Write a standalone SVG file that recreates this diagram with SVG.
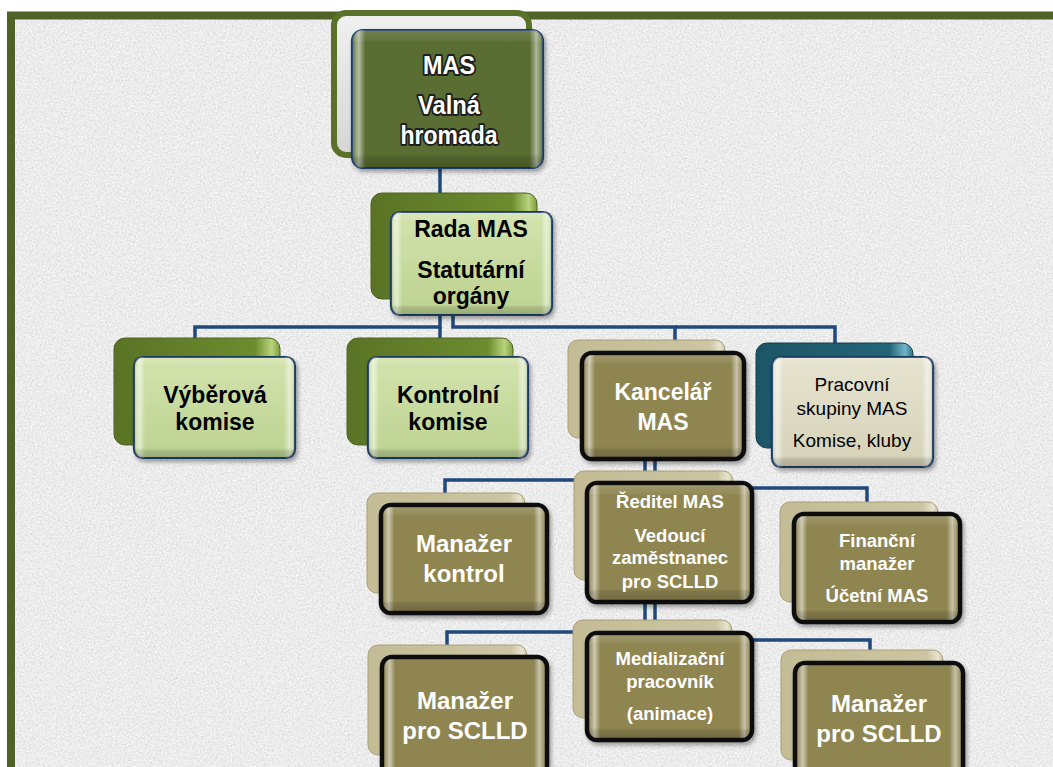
<svg xmlns="http://www.w3.org/2000/svg" width="1053" height="767" viewBox="0 0 1053 767">
  <defs>
    <filter id="noise" x="0" y="0" width="100%" height="100%">
      <feTurbulence type="fractalNoise" baseFrequency="0.5" numOctaves="3" seed="7"/>
      <feColorMatrix type="matrix" values="0 0 0 0 0.6  0 0 0 0 0.6  0 0 0 0 0.6  1.5 0 0 0 -0.62"/>
    </filter>
    <filter id="noiseLight" x="0" y="0" width="100%" height="100%">
      <feTurbulence type="fractalNoise" baseFrequency="0.55" numOctaves="2" seed="21"/>
      <feColorMatrix type="matrix" values="0 0 0 0 1  0 0 0 0 1  0 0 0 0 1  0 1.8 0 0 -0.75"/>
    </filter>
    <filter id="shadow" x="-10%" y="-10%" width="130%" height="130%">
      <feDropShadow dx="2" dy="3" stdDeviation="2" flood-color="#000" flood-opacity="0.35"/>
    </filter>
    <linearGradient id="bevH" x1="0" y1="0" x2="1" y2="0">
      <stop offset="0" stop-color="#fff" stop-opacity="0.05"/>
      <stop offset="0.035" stop-color="#fff" stop-opacity="0.55"/>
      <stop offset="0.07" stop-color="#fff" stop-opacity="0"/>
      <stop offset="0.93" stop-color="#fff" stop-opacity="0"/>
      <stop offset="0.965" stop-color="#fff" stop-opacity="0.5"/>
      <stop offset="1" stop-color="#fff" stop-opacity="0.05"/>
    </linearGradient>
    <linearGradient id="bevV" x1="0" y1="0" x2="0" y2="1">
      <stop offset="0" stop-color="#fff" stop-opacity="0.15"/>
      <stop offset="0.08" stop-color="#fff" stop-opacity="0.05"/>
      <stop offset="0.1" stop-color="#000" stop-opacity="0"/>
      <stop offset="0.9" stop-color="#000" stop-opacity="0"/>
      <stop offset="0.93" stop-color="#000" stop-opacity="0.12"/>
      <stop offset="1" stop-color="#000" stop-opacity="0.2"/>
    </linearGradient>
    <linearGradient id="greenBack" x1="0" y1="0" x2="1" y2="0">
      <stop offset="0" stop-color="#5a7326"/>
      <stop offset="0.85" stop-color="#6c8c2e"/>
      <stop offset="0.95" stop-color="#b8d47c"/>
      <stop offset="1" stop-color="#7d9b3b"/>
    </linearGradient>
    <linearGradient id="greenFront" x1="0" y1="0" x2="0" y2="1">
      <stop offset="0" stop-color="#d3e3ad"/>
      <stop offset="1" stop-color="#bcd291"/>
    </linearGradient>
    <linearGradient id="tealBack" x1="0" y1="0" x2="1" y2="0">
      <stop offset="0" stop-color="#1c5566"/>
      <stop offset="0.85" stop-color="#236577"/>
      <stop offset="0.95" stop-color="#6fb5c8"/>
      <stop offset="1" stop-color="#2d7488"/>
    </linearGradient>
    <linearGradient id="beigeFront" x1="0" y1="0" x2="0" y2="1">
      <stop offset="0" stop-color="#e6e3d0"/>
      <stop offset="1" stop-color="#d6d2b8"/>
    </linearGradient>
    <linearGradient id="khakiBack" x1="0" y1="0" x2="1" y2="0">
      <stop offset="0" stop-color="#c3bc95"/>
      <stop offset="0.9" stop-color="#cbc5a2"/>
      <stop offset="0.97" stop-color="#e8e4cf"/>
      <stop offset="1" stop-color="#c8c19c"/>
    </linearGradient>
    <linearGradient id="greyBack" x1="0" y1="0" x2="0" y2="1">
      <stop offset="0" stop-color="#f0f0f0"/>
      <stop offset="1" stop-color="#d6d6d6"/>
    </linearGradient>
    <style>
      .conn { fill: none; stroke: #1f497d; stroke-width: 3.5; stroke-linejoin: miter; }
      .back-green { fill: url(#greenBack); stroke: #4d6420; stroke-width: 1; }
      .front-green { fill: url(#greenFront); stroke: #1f3b63; stroke-width: 2.2; }
      .back-khaki { fill: url(#khakiBack); stroke: #a8a07a; stroke-width: 1; }
      .front-khaki { fill: #8f8551; stroke: #0d0d0d; stroke-width: 4.5; }
      .back-teal { fill: url(#tealBack); stroke: #163f4b; stroke-width: 1; }
      .front-beige { fill: url(#beigeFront); stroke: #1f3b63; stroke-width: 2.2; }
      .bh { fill: url(#bevH); stroke: none; }
      .bv { fill: url(#bevV); stroke: none; }
      text { font-family: "Liberation Sans", Arial, sans-serif; text-anchor: middle; }
      .tb { font-weight: bold; fill: #000; }
      .tw { font-weight: bold; fill: #fff; }
      .tn { fill: #000; }
      .th { font-weight: bold; fill: #fff; stroke: #1e1e1e; stroke-width: 4; paint-order: stroke; stroke-linejoin: round; }
    </style>
  </defs>

  <!-- background -->
  <rect x="0" y="0" width="1053" height="767" fill="#ffffff"/>
  <rect x="11" y="15.5" width="1060" height="770" fill="#ececec"/>
  <rect x="11" y="15.5" width="1060" height="770" filter="url(#noise)"/>
  <rect x="11" y="15.5" width="1060" height="770" filter="url(#noiseLight)"/>
  <rect x="11" y="15.5" width="1060" height="770" fill="none" stroke="#4f6228" stroke-width="8"/>

  <g id="connectors">
    <path class="conn" d="M440,168 V195"/>
    <path class="conn" d="M440,312 V327 H195 V340"/>
    <path class="conn" d="M440,327 V340"/>
    <path class="conn" d="M453,312 V327 H675 V342"/>
    <path class="conn" d="M675,327 H835 V345"/>
    <path class="conn" d="M645,457 V480 H445 V495"/>
    <path class="conn" d="M655,457 V488 H867 V504"/>
    <path class="conn" d="M645,600 V632 H447 V647"/>
    <path class="conn" d="M655,600 V640 H870 V652"/>
  </g>

  <g id="n-valna-hromada">
    <rect x="334" y="13" width="195" height="142" rx="12" fill="url(#greyBack)" stroke="#5b7129" stroke-width="6"/>
    <g filter="url(#shadow)">
      <rect x="352" y="30" width="191" height="138" rx="11" fill="#5a6d31" stroke="#1f3b63" stroke-width="2.2"/>
    </g>
    <rect x="352" y="30" width="191" height="138" rx="11" class="bh"/>
    <rect x="352" y="30" width="191" height="138" rx="11" class="bv"/>
    <text class="th" x="449" y="74" font-size="26" textLength="52" lengthAdjust="spacingAndGlyphs">MAS</text>
    <text class="th" x="449" y="114" font-size="26" textLength="62" lengthAdjust="spacingAndGlyphs">Valná</text>
    <text class="th" x="449" y="144" font-size="26" textLength="97" lengthAdjust="spacingAndGlyphs">hromada</text>
  </g>

  <g id="n-rada">
    <rect x="371" y="193" width="166" height="106" rx="11" class="back-green"/>
    <g filter="url(#shadow)">
      <rect x="391" y="212" width="161" height="103" rx="9" class="front-green"/>
    </g>
    <rect x="391" y="212" width="161" height="103" rx="9" class="bh"/>
    <rect x="391" y="212" width="161" height="103" rx="9" class="bv"/>
    <text class="tb" x="471" y="237" font-size="23">Rada MAS</text>
    <text class="tb" x="471" y="278" font-size="23">Statutární</text>
    <text class="tb" x="471" y="304" font-size="23">orgány</text>
  </g>

  <g id="n-vyberova">
    <rect x="114" y="338" width="166" height="107" rx="11" class="back-green"/>
    <g filter="url(#shadow)">
      <rect x="134" y="357" width="161" height="101" rx="9" class="front-green"/>
    </g>
    <rect x="134" y="357" width="161" height="101" rx="9" class="bh"/>
    <rect x="134" y="357" width="161" height="101" rx="9" class="bv"/>
    <text class="tb" x="215" y="403" font-size="23">Výběrová</text>
    <text class="tb" x="215" y="430" font-size="23">komise</text>
  </g>

  <g id="n-kontrolni">
    <rect x="347" y="338" width="166" height="107" rx="11" class="back-green"/>
    <g filter="url(#shadow)">
      <rect x="368" y="357" width="160" height="101" rx="9" class="front-green"/>
    </g>
    <rect x="368" y="357" width="160" height="101" rx="9" class="bh"/>
    <rect x="368" y="357" width="160" height="101" rx="9" class="bv"/>
    <text class="tb" x="448" y="403" font-size="23">Kontrolní</text>
    <text class="tb" x="448" y="430" font-size="23">komise</text>
  </g>

  <g id="n-kancelar">
    <rect x="568" y="340" width="157" height="98" rx="10" class="back-khaki"/>
    <g filter="url(#shadow)">
      <rect x="582" y="353" width="162" height="106" rx="10" class="front-khaki"/>
    </g>
    <rect x="584" y="355" width="158" height="102" rx="8" class="bh"/>
    <rect x="584" y="355" width="158" height="102" rx="8" class="bv"/>
    <text class="tw" x="663" y="400" font-size="23">Kancelář</text>
    <text class="tw" x="663" y="430" font-size="23">MAS</text>
  </g>

  <g id="n-pracovni-skupiny">
    <rect x="756" y="343" width="157" height="105" rx="11" class="back-teal"/>
    <g filter="url(#shadow)">
      <rect x="772" y="357" width="161" height="110" rx="9" class="front-beige"/>
    </g>
    <rect x="772" y="357" width="161" height="110" rx="9" class="bh"/>
    <rect x="772" y="357" width="161" height="110" rx="9" class="bv"/>
    <text class="tn" x="852" y="391" font-size="19">Pracovní</text>
    <text class="tn" x="852" y="415" font-size="19">skupiny MAS</text>
    <text class="tn" x="852" y="447" font-size="19">Komise, kluby</text>
  </g>

  <g id="n-manazer-kontrol">
    <rect x="367" y="493" width="158" height="100" rx="10" class="back-khaki"/>
    <g filter="url(#shadow)">
      <rect x="381" y="505" width="166" height="108" rx="10" class="front-khaki"/>
    </g>
    <rect x="383" y="507" width="162" height="104" rx="8" class="bh"/>
    <rect x="383" y="507" width="162" height="104" rx="8" class="bv"/>
    <text class="tw" x="464" y="552" font-size="24">Manažer</text>
    <text class="tw" x="464" y="582" font-size="24">kontrol</text>
  </g>

  <g id="n-reditel">
    <rect x="574" y="471" width="159" height="109" rx="10" class="back-khaki"/>
    <g filter="url(#shadow)">
      <rect x="587" y="483" width="165" height="119" rx="10" class="front-khaki"/>
    </g>
    <rect x="589" y="485" width="161" height="115" rx="8" class="bh"/>
    <rect x="589" y="485" width="161" height="115" rx="8" class="bv"/>
    <text class="tw" x="670" y="508" font-size="18.5">Ředitel MAS</text>
    <text class="tw" x="670" y="542" font-size="18.5">Vedoucí</text>
    <text class="tw" x="670" y="564" font-size="18.5">zaměstnanec</text>
    <text class="tw" x="670" y="588" font-size="18.5">pro SCLLD</text>
  </g>

  <g id="n-financni">
    <rect x="780" y="502" width="158" height="100" rx="10" class="back-khaki"/>
    <g filter="url(#shadow)">
      <rect x="794" y="514" width="166" height="108" rx="10" class="front-khaki"/>
    </g>
    <rect x="796" y="516" width="162" height="104" rx="8" class="bh"/>
    <rect x="796" y="516" width="162" height="104" rx="8" class="bv"/>
    <text class="tw" x="877" y="547" font-size="18.5">Finanční</text>
    <text class="tw" x="877" y="570" font-size="18.5">manažer</text>
    <text class="tw" x="877" y="602" font-size="18.5">Účetní MAS</text>
  </g>

  <g id="n-medializacni">
    <rect x="573" y="620" width="159" height="98" rx="10" class="back-khaki"/>
    <g filter="url(#shadow)">
      <rect x="587" y="633" width="165" height="107" rx="10" class="front-khaki"/>
    </g>
    <rect x="589" y="635" width="161" height="103" rx="8" class="bh"/>
    <rect x="589" y="635" width="161" height="103" rx="8" class="bv"/>
    <text class="tw" x="670" y="665" font-size="18.5">Medializační</text>
    <text class="tw" x="670" y="688" font-size="18.5">pracovník</text>
    <text class="tw" x="670" y="720" font-size="18.5">(animace)</text>
  </g>

  <g id="n-manazer-sclld-1">
    <rect x="368" y="645" width="159" height="110" rx="10" class="back-khaki"/>
    <g filter="url(#shadow)">
      <rect x="382" y="657" width="165" height="125" rx="10" class="front-khaki"/>
    </g>
    <rect x="384" y="659" width="161" height="121" rx="8" class="bh"/>
    <text class="tw" x="465" y="709" font-size="24">Manažer</text>
    <text class="tw" x="465" y="739" font-size="24">pro SCLLD</text>
  </g>

  <g id="n-manazer-sclld-2">
    <rect x="781" y="650" width="162" height="110" rx="10" class="back-khaki"/>
    <g filter="url(#shadow)">
      <rect x="795" y="663" width="168" height="120" rx="10" class="front-khaki"/>
    </g>
    <rect x="797" y="665" width="164" height="116" rx="8" class="bh"/>
    <text class="tw" x="879" y="712" font-size="24">Manažer</text>
    <text class="tw" x="879" y="742" font-size="24">pro SCLLD</text>
  </g>
</svg>
